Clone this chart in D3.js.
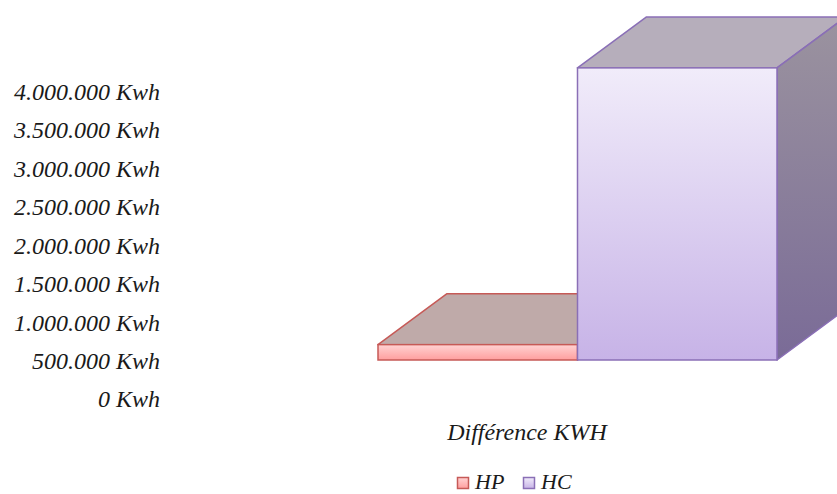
<!DOCTYPE html>
<html>
<head>
<meta charset="utf-8">
<script src="https://cdn.jsdelivr.net/npm/d3@7"></script>
<style>
  html, body { margin: 0; padding: 0; background: #fff; }
  svg { display: block; }
  text { font-family: "Palatino Linotype", "Book Antiqua", Palatino, "Liberation Serif", serif; font-style: italic; fill: #1a1a1a; }
</style>
</head>
<body>
<svg id="chart" width="837" height="494"></svg>
<script>
// Data
const categories = ["Différence KWH"];
const seriesNames = ["HP", "HC"];
const seriesValues = [200000, 3800000];
const tickValues = [0, 500000, 1000000, 1500000, 2000000, 2500000, 3000000, 3500000, 4000000];
const unitLabel = "Kwh";

const W = 837, H = 494;
const svg = d3.select("#chart");

// Scales
const y = d3.scaleLinear().domain([0, 4000000]).range([399, 91.5]);
const x = d3.scaleBand().domain(seriesNames).range([378, 777]).padding(0);
const floorY = 360;          // front bottom edge of bars
const depth = { dx: 69, dy: -51 };

const fmt = v => d3.format(",")(v).replace(/,/g, ".") + " " + unitLabel;

// Axis labels
svg.append("g").selectAll("text").data(tickValues).join("text")
  .attr("x", 160).attr("y", d => y(d))
  .attr("dy", "0.35em")
  .attr("text-anchor", "end")
  .style("font-size", "24px")
  .text(fmt);

// Gradients
const defs = svg.append("defs");
function vGrad(id, c0, c1) {
  const g = defs.append("linearGradient").attr("id", id)
    .attr("x1", 0).attr("y1", 0).attr("x2", 0).attr("y2", 1);
  g.append("stop").attr("offset", "0%").attr("stop-color", c0);
  g.append("stop").attr("offset", "100%").attr("stop-color", c1);
}
const styles = {
  HP: { front: ["#ffd3d3", "#ff9e9e"], top: "#bfaaa9", side: ["#a89594", "#9a8483"], stroke: "#c65a57" },
  HC: { front: ["#f1ecfa", "#c7b3e7"], top: "#b6aebb", side: ["#9b939f", "#7a6b97"], stroke: "#8a6fb6" }
};
seriesNames.forEach(s => {
  vGrad("front-" + s, styles[s].front[0], styles[s].front[1]);
  vGrad("side-" + s, styles[s].side[0], styles[s].side[1]);
});

// 3D bars
const bars = svg.append("g");
seriesNames.forEach((s, i) => {
  const v = seriesValues[i];
  const h = y(0) - y(v);
  const x0 = x(s), x1 = x(s) + x.bandwidth();
  const yTop = floorY - h, yBot = floorY;
  const { dx, dy } = depth;
  const st = styles[s];
  const g = bars.append("g");
  const pts = p => p.map(q => q.join(",")).join(" ");
  // top face
  g.append("polygon")
    .attr("points", pts([[x0, yTop], [x0 + dx, yTop + dy], [x1 + dx, yTop + dy], [x1, yTop]]))
    .attr("fill", st.top).attr("stroke", st.stroke).attr("stroke-width", 1.5).attr("stroke-linejoin", "round");
  // right side face
  g.append("polygon")
    .attr("points", pts([[x1, yTop], [x1 + dx, yTop + dy], [x1 + dx, yBot + dy], [x1, yBot]]))
    .attr("fill", `url(#side-${s})`).attr("stroke", st.stroke).attr("stroke-width", 1.5).attr("stroke-linejoin", "round");
  // front face
  g.append("rect")
    .attr("x", x0).attr("y", yTop).attr("width", x1 - x0).attr("height", h)
    .attr("fill", `url(#front-${s})`).attr("stroke", st.stroke).attr("stroke-width", 1.5);
});

// Category label
svg.append("text")
  .attr("x", 527).attr("y", 432).attr("dy", "0.35em")
  .attr("text-anchor", "middle")
  .style("font-size", "24px")
  .text(categories[0]);

// Legend
const legend = svg.append("g");
const legendX = [457, 523];
seriesNames.forEach((s, i) => {
  const g = legend.append("g").attr("transform", `translate(${legendX[i]},477)`);
  g.append("rect").attr("x", 0.5).attr("y", 0.5).attr("width", 11).attr("height", 11)
    .attr("fill", `url(#front-${s})`).attr("stroke", styles[s].stroke).attr("stroke-width", 1.5);
  g.append("text").attr("x", 18).attr("y", 12)
    .style("font-size", "22px").text(s);
});
</script>
</body>
</html>
